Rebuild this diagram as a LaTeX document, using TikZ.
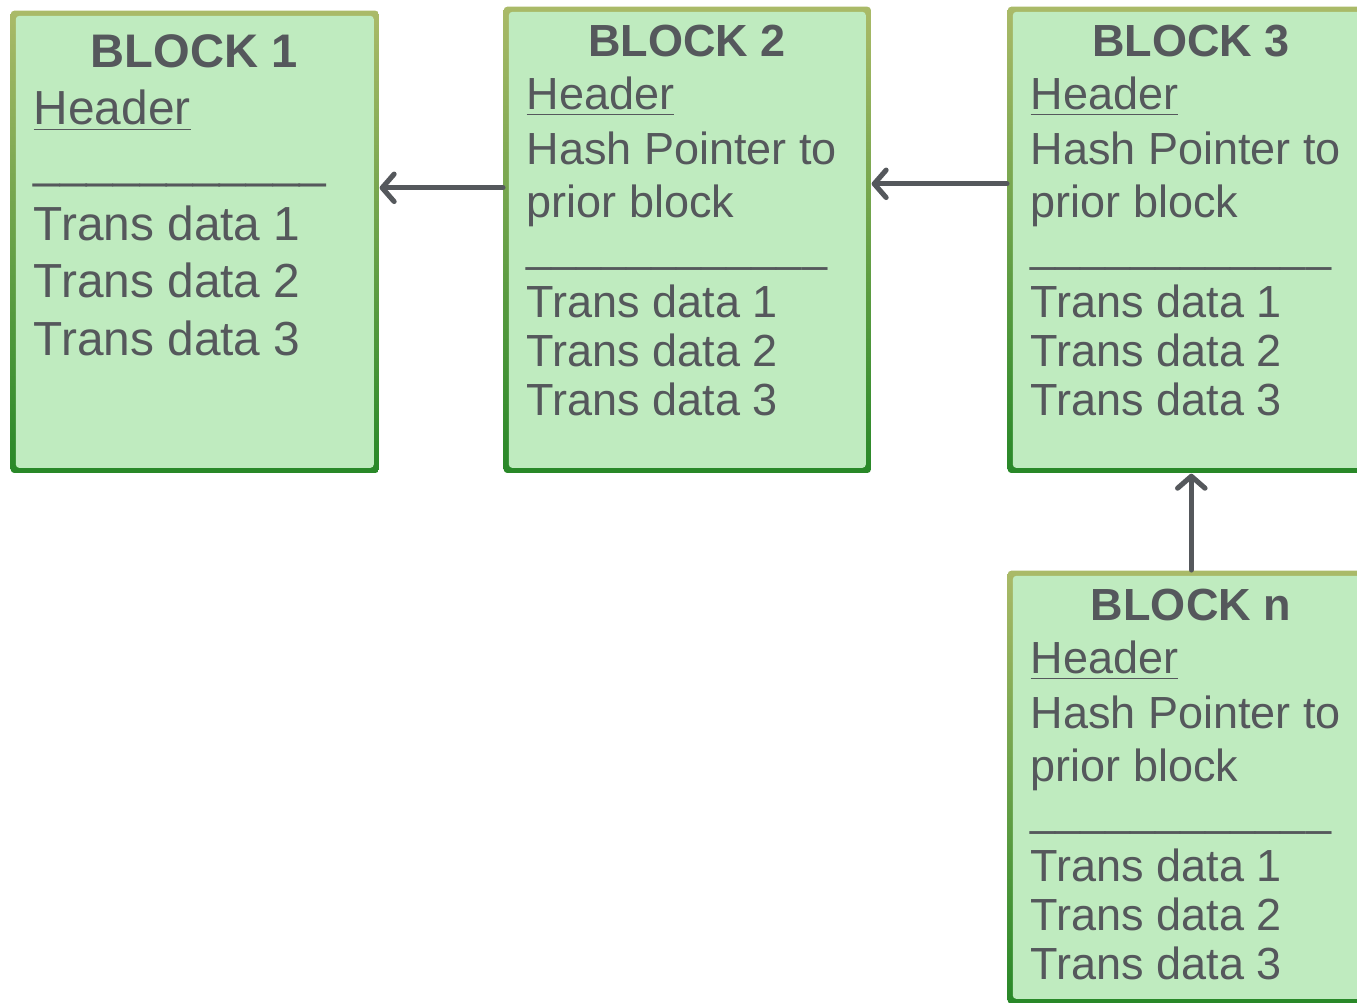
\documentclass[tikz,border=0pt]{standalone}
\usepackage{fontspec}
\setmainfont{Liberation Sans}
\usetikzlibrary{arrows.meta,calc}

\definecolor{boxfill}{RGB}{191,235,191}
\definecolor{bordtop}{RGB}{170,186,104}
\definecolor{bordbot}{RGB}{40,136,40}
\definecolor{inkgray}{RGB}{85,88,92}

\newcommand\rowsmall{\_\_\_\_\_\_\_\_\_\_\_\_}
\newcommand\rowbig{\_\_\_\_\_\_\_\_\_\_\_}

\tikzset{
  block/.style={rectangle, inner sep=0pt, anchor=north west, rounded corners=1pt,
    top color=bordtop, bottom color=bordbot,
    path picture={\fill[boxfill]
      ([shift={(1.45pt,-1.45pt)}]path picture bounding box.north west) rectangle
      ([shift={(-1.45pt,1.45pt)}]path picture bounding box.south east);}},
  title/.style={anchor=base, inner sep=0pt, text=inkgray,
    font=\fontsize{12.8}{15}\selectfont\bfseries},
  entry/.style={anchor=base west, inner sep=0pt, text=inkgray,
    font=\fontsize{12.8}{15}\selectfont},
  bigtext/.style={font=\fontsize{13.6}{16}\selectfont},
  bigtitle/.style={font=\fontsize{13.4}{16}\selectfont\bfseries},
  link/.style={draw=inkgray, line width=1.45pt, line cap=round,
    -{Straight Barb[length=3.4pt,width=7.8pt,round]}}
}

\begin{document}
\begin{tikzpicture}[x=0.01cm,y=-0.01cm]
	\clip (0,0) rectangle (1357,1002);
	% the blocks
	\node[block, minimum width=3.68cm, minimum height=4.62cm] (b1) at (10,10) {};
	\node[block, minimum width=3.67cm, minimum height=4.66cm] (b2) at (503,6) {};
	\node[block, minimum width=3.67cm, minimum height=4.66cm] (b3) at (1007,6) {};
	\node[block, minimum width=3.67cm, minimum height=4.33cm] (bn) at (1007,570) {};
	% first block
	\node[title, bigtitle] (t1) at (194,67) {BLOCK 1};
	\foreach \y/\t [count=\i] in {124/\underline{Header}, 177/\rowbig,
		240/Trans data 1, 297/Trans data 2, 355/Trans data 3}
		\node[entry, bigtext] (l1-\i) at (33,\y) {\t};
	% the other blocks
	\foreach \nm/\dx/\dy in {2/0/0, 3/504/0, n/504/564} {
		\node[title] (t\nm) at (687+\dx,56+\dy) {BLOCK \nm};
		\foreach \y/\t [count=\i] in {109/\underline{Header}, 164/Hash Pointer to,
			217/prior block, 261/\rowsmall, 317/Trans data 1, 366/Trans data 2,
			415/Trans data 3}
			\node[entry] (l\nm-\i) at (526+\dx,\y+\dy) {\t};
	}
	% hash pointers
	\draw[link] ([yshift=5.2mm]b2.west) -- ([yshift=5.2mm]b2.west -| b1.east);
	\draw[link] ([yshift=5.6mm]b3.west) -- ([yshift=5.6mm]b3.west -| b2.east);
	\draw[link] (bn.north) -- (b3.south);
\end{tikzpicture}
\end{document}
